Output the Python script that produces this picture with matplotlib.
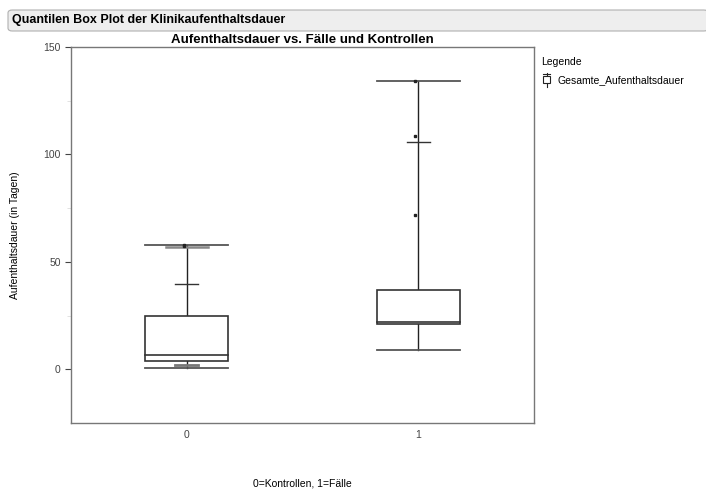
import matplotlib
matplotlib.use("Agg")
import matplotlib.pyplot as plt
from matplotlib.patches import Rectangle, FancyBboxPatch
from matplotlib.lines import Line2D

plt.rcParams['font.family'] = ['Liberation Sans', 'DejaVu Sans']

# ---------- DATA ----------
groups = [0, 1]
tick_labels = ["0", "1"]
q_min = [0.8, 8.8]
q_low = [1.9, None]          # short marker near the bottom
q1 = [3.9, 21.1]
median = [6.8, 22.0]
q3 = [24.8, 36.7]
q90 = [39.5, 105.7]
q975 = [56.7, None]          # grey marker just below the top cap
q_max = [57.7, 134.4]
extra_points = [[57.7, 57.2], [71.8, 108.8, 134.4]]

# ---------- FIGURE ----------
fig = plt.figure(figsize=(7.06, 4.91), dpi=100)
W, H = 706, 491

# header bar
hdr = FancyBboxPatch((8 / W, 1 - 31 / H), 700 / W, 21 / H,
                     boxstyle="round,pad=0,rounding_size=0.006",
                     transform=fig.transFigure, facecolor="#eeeeee",
                     edgecolor="#b0b0b0", linewidth=0.8)
fig.add_artist(hdr)
fig.text(12 / W, 1 - 20 / H, "Quantilen Box Plot der Klinikaufenthaltsdauer",
         fontsize=9, fontweight="bold", va="center", ha="left")

ax = fig.add_axes([71 / W, 1 - 423 / H, 463 / W, 376 / H])

box_w = 0.18
cap_w = 0.18
mark_w = 0.05
line_c = "#333333"

for i, g in enumerate(groups):
    # whiskers
    ax.plot([g, g], [q3[i], q_max[i]], color="#222222", lw=1.0)
    ax.plot([g, g], [q_min[i], q1[i]], color="#222222", lw=1.0)
    # caps at min / max
    ax.plot([g - cap_w, g + cap_w], [q_max[i]] * 2, color="#555555", lw=1.3)
    ax.plot([g - cap_w, g + cap_w], [q_min[i]] * 2, color="#555555", lw=1.3)
    # box
    ax.add_patch(Rectangle((g - box_w, q1[i]), 2 * box_w, q3[i] - q1[i],
                           facecolor="white", edgecolor=line_c, lw=1.2, zorder=3))
    ax.plot([g - box_w, g + box_w], [median[i]] * 2, color=line_c, lw=1.2, zorder=4)
    # quantile markers
    ax.plot([g - mark_w, g + mark_w], [q90[i]] * 2, color="#333333", lw=1.0)
    if q_low[i] is not None:
        ax.plot([g - mark_w, g + mark_w], [q_low[i]] * 2, color="#777777", lw=2.0)
    if q975[i] is not None:
        ax.plot([g - 0.09, g + 0.09], [q975[i]] * 2, color="#888888", lw=1.8)
    # single observations
    ax.plot([g - 0.012] * len(extra_points[i]), extra_points[i], ls="none",
            marker="s", ms=1.8, color="#222222")

ax.set_xlim(-0.5, 1.5)
ax.set_ylim(-25, 150)
ax.set_xticks(groups)
ax.set_xticklabels(tick_labels)
ax.set_yticks([0, 50, 100, 150])
ax.set_yticks([25, 75, 125], minor=True)
ax.tick_params(axis="both", labelsize=7.5, colors="#444444", length=4, width=0.8)
ax.tick_params(axis="y", which="minor", length=3, colors="#dddddd")
ax.tick_params(axis="x", length=0, pad=5)
for sp in ax.spines.values():
    sp.set_color("#777777")
    sp.set_linewidth(1.0)

ax.set_title("Aufenthaltsdauer vs. Fälle und Kontrollen", fontsize=9.5,
             fontweight="bold", pad=3)
ax.set_ylabel("Aufenthaltsdauer (in Tagen)", fontsize=7.5, labelpad=17)
ax.set_xlabel("0=Kontrollen, 1=Fälle", fontsize=7.5, labelpad=28)

# legend
fig.text(541 / W, 1 - 62 / H, "Legende", fontsize=7.5, va="center")
fig.text(557 / W, 1 - 80 / H, "Gesamte_Aufenthaltsdauer", fontsize=7.5, va="center")
sx, sy = 546.5, 80
fig.add_artist(Line2D([sx / W, sx / W], [1 - (sy - 7) / H, 1 - (sy + 7) / H],
                      transform=fig.transFigure, color="#222222", lw=0.8))
fig.add_artist(Rectangle(((sx - 3.5) / W, 1 - (sy + 3) / H), 7 / W, 7 / H,
                         transform=fig.transFigure, facecolor="white",
                         edgecolor="#222222", lw=0.8, zorder=5))
fig.add_artist(Line2D([(sx - 3.5) / W, (sx + 3.5) / W], [1 - (sy - 6) / H] * 2,
                      transform=fig.transFigure, color="#222222", lw=0.8))

fig.savefig("out.png", dpi=100)
